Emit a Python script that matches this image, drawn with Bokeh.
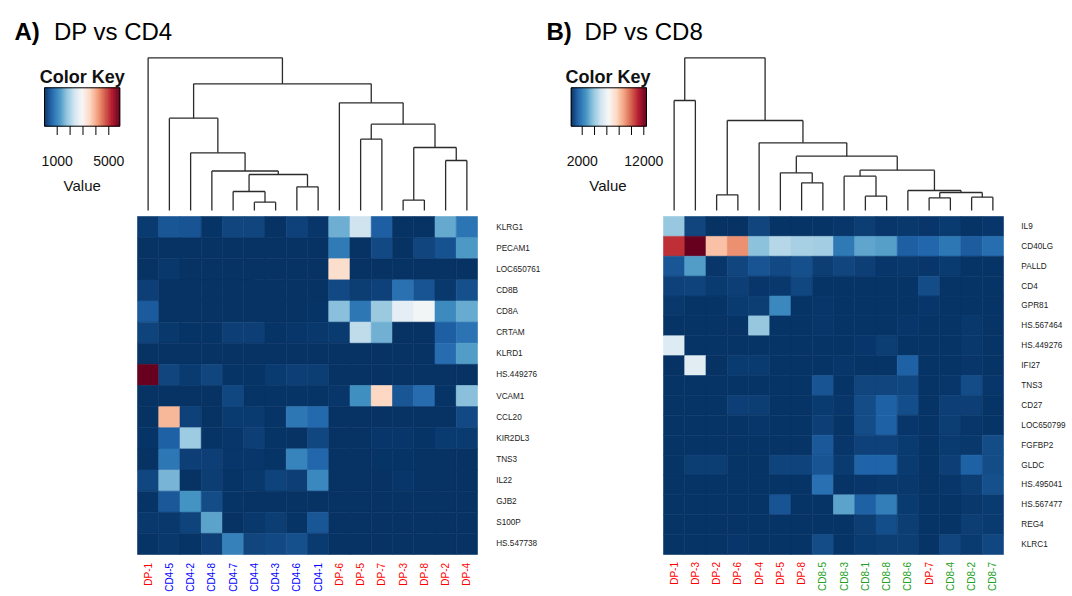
import numpy as np
from bokeh.plotting import figure
from bokeh.models import Range1d, LinearColorMapper, ColumnDataSource
from bokeh.transform import transform
from bokeh.core.properties import value
from bokeh.embed import file_html
from bokeh.resources import INLINE

W, H = 1072, 596
FONT = "Liberation Sans"

# ---------------- Panel A: DP vs CD4 ----------------
cols_a = ["DP-1", "CD4-5", "CD4-2", "CD4-8", "CD4-7", "CD4-4", "CD4-3", "CD4-6",
          "CD4-1", "DP-6", "DP-5", "DP-7", "DP-3", "DP-8", "DP-2", "DP-4"]
rows_a = ["KLRG1", "PECAM1", "LOC650761", "CD8B", "CD8A", "CRTAM", "KLRD1", "HS.449276",
          "VCAM1", "CCL20", "KIR2DL3", "TNS3", "IL22", "GJB2", "S100P", "HS.547738"]
vals_a = [
    [140, 430, 420, 70, 250, 250, 60, 200, 100, 1500, 2320, 530, 50, 50, 1430, 800],
    [50, 50, 50, 50, 50, 50, 50, 50, 60, 870, 50, 300, 60, 260, 390, 1250],
    [60, 110, 60, 60, 60, 60, 60, 60, 60, 3450, 40, 40, 40, 40, 40, 40],
    [190, 60, 60, 60, 60, 60, 60, 60, 60, 310, 170, 210, 760, 425, 120, 370],
    [480, 60, 60, 60, 60, 60, 60, 60, 70, 1720, 820, 1860, 2650, 2850, 1080, 1460],
    [230, 120, 70, 70, 180, 180, 70, 90, 120, 140, 2200, 1530, 50, 60, 520, 790],
    [50, 50, 50, 50, 50, 50, 50, 50, 50, 50, 50, 60, 60, 60, 700, 1300],
    [5853, 260, 140, 250, 70, 80, 150, 190, 170, 50, 50, 50, 50, 50, 50, 50],
    [60, 60, 60, 60, 280, 70, 70, 70, 70, 90, 1150, 3550, 430, 700, 80, 1720],
    [60, 3900, 210, 60, 140, 150, 70, 820, 640, 50, 50, 50, 50, 50, 50, 310],
    [70, 560, 1870, 70, 90, 190, 70, 60, 270, 60, 60, 100, 90, 80, 140, 140],
    [60, 830, 180, 180, 90, 90, 80, 980, 620, 60, 60, 80, 70, 60, 60, 60],
    [270, 1580, 60, 160, 80, 120, 240, 180, 1060, 60, 60, 60, 100, 60, 60, 60],
    [70, 450, 1180, 330, 70, 60, 60, 60, 60, 60, 60, 60, 60, 60, 60, 60],
    [120, 120, 240, 1380, 60, 130, 160, 70, 430, 60, 60, 60, 60, 60, 60, 60],
    [80, 110, 70, 180, 960, 260, 310, 360, 150, 50, 50, 50, 50, 50, 50, 50],
]
# merges: (child, child, height); leaves 0..15, merged nodes 16..
merges_a = [
    (5, 6, 8.3), (12, 13, 10.4), (4, 16, 19.0), (7, 8, 23.7), (18, 19, 36.0),
    (3, 20, 39.5), (14, 15, 50.0), (2, 21, 57.7), (17, 22, 63.0), (10, 11, 71.3),
    (25, 24, 86.3), (1, 23, 92.3), (9, 26, 107.7), (27, 28, 126.7), (0, 29, 152.7),
]
key_a_low, key_a_high = 16, 5853
key_a_ticks = [1000, 2000, 3000, 4000, 5000]
key_a_labels = ["1000", "5000"]

# ---------------- Panel B: DP vs CD8 ----------------
cols_b = ["DP-1", "DP-3", "DP-2", "DP-6", "DP-4", "DP-5", "DP-8", "CD8-5",
          "CD8-3", "CD8-1", "CD8-8", "CD8-6", "DP-7", "CD8-4", "CD8-2", "CD8-7"]
rows_b = ["IL9", "CD40LG", "PALLD", "CD4", "GPR81", "HS.567464", "HS.449276", "IFI27",
          "TNS3", "CD27", "LOC650799", "FGFBP2", "GLDC", "HS.495041", "HS.567477",
          "REG4", "KLRC1"]
vals_b = [
    [3990, 690, 300, 300, 700, 330, 330, 330, 360, 500, 400, 420, 370, 470, 330, 400],
    [10800, 12439, 8100, 9100, 3800, 4600, 4300, 4200, 1950, 3100, 2950, 1300, 1500, 1900, 1250, 1650],
    [1100, 2900, 400, 700, 1050, 800, 950, 500, 700, 550, 380, 430, 380, 460, 330, 330],
    [600, 650, 480, 550, 380, 430, 760, 330, 330, 330, 330, 330, 850, 320, 320, 320],
    [420, 330, 340, 470, 520, 2400, 320, 400, 330, 330, 330, 330, 400, 330, 330, 330],
    [310, 310, 310, 310, 3950, 310, 310, 400, 330, 330, 330, 380, 330, 330, 420, 310],
    [5500, 310, 310, 310, 310, 310, 310, 310, 310, 380, 500, 310, 310, 310, 420, 310],
    [300, 5650, 300, 460, 460, 320, 320, 320, 400, 320, 320, 1330, 330, 330, 390, 330],
    [320, 320, 320, 320, 320, 320, 320, 1050, 330, 700, 700, 780, 330, 360, 870, 400],
    [320, 320, 320, 560, 500, 330, 350, 460, 380, 870, 1350, 900, 330, 560, 560, 330],
    [320, 320, 320, 320, 360, 320, 320, 560, 340, 850, 1350, 360, 340, 530, 390, 330],
    [330, 340, 340, 340, 350, 330, 350, 1120, 400, 620, 620, 450, 340, 460, 420, 850],
    [330, 540, 540, 350, 350, 680, 680, 1050, 460, 1380, 1380, 450, 340, 560, 1350, 870],
    [320, 320, 320, 320, 320, 320, 320, 1700, 330, 390, 420, 420, 330, 380, 540, 950],
    [320, 350, 350, 340, 340, 1050, 330, 330, 3050, 1350, 2100, 450, 340, 340, 420, 450],
    [320, 340, 340, 350, 350, 340, 340, 340, 340, 500, 900, 520, 330, 340, 500, 460],
    [320, 330, 340, 370, 340, 340, 340, 850, 340, 460, 500, 520, 340, 700, 450, 780],
]
merges_b = [
    (12, 13, 12.7), (14, 15, 13.3), (9, 10, 14.3), (2, 3, 15.7), (16, 17, 18.0),
    (11, 20, 20.0), (6, 7, 27.7), (8, 18, 34.3), (5, 22, 37.7), (23, 21, 40.3),
    (24, 25, 54.3), (4, 26, 67.7), (19, 27, 90.0), (0, 1, 110.0), (29, 28, 152.7),
]
key_b_low, key_b_high = 211, 12439
key_b_ticks = [2000, 4000, 6000, 8000, 10000, 12000]
key_b_labels = ["2000", "12000"]

label_colors = {"DP": "#FF0000", "CD4": "#0000FF", "CD8": "#22A022"}

# ---------------- helpers ----------------
rdbu = ["#053061", "#2166AC", "#4393C3", "#92C5DE", "#D1E5F0", "#F7F7F7",
        "#FDDBC7", "#F4A582", "#D6604D", "#B2182B", "#67001F"]


def interp_palette(colors, n):
    rgb = np.array([[int(c[i:i + 2], 16) for i in (1, 3, 5)] for c in colors], float)
    out = []
    for t in np.linspace(0, len(colors) - 1, n):
        i = min(int(np.floor(t)), len(colors) - 2)
        f = t - i
        c = rgb[i] * (1 - f) + rgb[i + 1] * f
        out.append("#%02x%02x%02x" % tuple(int(round(v)) for v in c))
    return out


PAL = interp_palette(rdbu, 256)


def lin_range(d0, p0, d1, p1, pstart, pend):
    k = (d1 - d0) / (p1 - p0)
    return Range1d(start=d0 + (pstart - p0) * k, end=d0 + (pend - p0) * k)


p = figure(width=W, height=H, x_range=Range1d(0, W), y_range=Range1d(H, 0),
           output_backend="svg", toolbar_location=None, min_border=0,
           x_axis_location=None, y_axis_location=None, outline_line_color=None,
           background_fill_color="white", border_fill_color="white")
p.grid.visible = False

# layout (screen pixels)
HEAT_TOP, HEAT_BOT = 216, 554
DEND_BASE = 210
KEY_TOP, KEY_BOT, TICK_BOT = 87.3, 125.7, 134.5
p.extra_y_ranges = {
    "ay": lin_range(-0.5, HEAT_TOP, len(rows_a) - 0.5, HEAT_BOT, H, 0),
    "by": lin_range(-0.5, HEAT_TOP, len(rows_b) - 0.5, HEAT_BOT, H, 0),
    "dy": lin_range(0, DEND_BASE, 100, DEND_BASE - 100, H, 0),
}
p.extra_x_ranges = {
    "ax": lin_range(-0.5, 137, len(cols_a) - 0.5, 477, 0, W),
    "bx": lin_range(-0.5, 663, len(cols_b) - 0.5, 1003, 0, W),
    "akx": lin_range(key_a_low, 44, key_a_high, 119.3, 0, W),
    "bkx": lin_range(key_b_low, 570.7, key_b_high, 646, 0, W),
}


def dendro_segments(merges, n):
    xs = {i: float(i) for i in range(n)}
    hs = {i: 0.0 for i in range(n)}
    x0, y0, x1, y1 = [], [], [], []
    for k, (a, b, h) in enumerate(merges):
        node = n + k
        for c in (a, b):
            x0.append(xs[c]); y0.append(hs[c]); x1.append(xs[c]); y1.append(h)
        x0.append(xs[a]); y0.append(h); x1.append(xs[b]); y1.append(h)
        xs[node] = (xs[a] + xs[b]) / 2
        hs[node] = h
    return dict(x0=x0, y0=y0, x1=x1, y1=y1)


def panel(cols, rows, vals, merges, low, high, ticks, tick_labels, xr, yr, kxr,
          letter, title, letter_x, title_x, key_cx, rowlab_off):
    mapper = LinearColorMapper(palette=PAL, low=low, high=high)
    cx, cy, cv = [], [], []
    for j, r in enumerate(rows):
        for i, c in enumerate(cols):
            cx.append(i); cy.append(j); cv.append(vals[j][i])
    src = ColumnDataSource(dict(x=cx, y=cy, v=cv))
    p.rect(x="x", y="y", width=1, height=1, source=src,
           fill_color=transform("v", mapper), line_color=transform("v", mapper),
           line_width=0.6, x_range_name=xr, y_range_name=yr)

    # dendrogram
    seg = dendro_segments(merges, len(cols))
    p.segment(x0="x0", y0="y0", x1="x1", y1="y1", source=ColumnDataSource(seg),
              line_color="#2b2b2b", line_width=1.3, x_range_name=xr, y_range_name="dy")

    # row labels
    p.text(x=[len(cols) - 0.5 + rowlab_off] * len(rows), y=list(range(len(rows))), text=rows,
           text_font=value(FONT), text_font_size="8.2px", text_color="#222222",
           text_align="left", text_baseline="middle", x_range_name=xr, y_range_name=yr)

    # column labels
    ccol = [label_colors[c.split("-")[0]] for c in cols]
    p.text(x=list(range(len(cols))), y=[len(rows) - 0.5 + 0.4 * 16 / len(rows)] * len(cols),
           text=cols, text_color=ccol, angle=np.pi / 2,
           text_font=value(FONT), text_font_size="10px",
           text_align="right", text_baseline="middle", x_range_name=xr, y_range_name=yr)

    # color key
    edges = np.linspace(low, high, 121)
    mids = (edges[:-1] + edges[1:]) / 2
    ksrc = ColumnDataSource(dict(l=edges[:-1], r=edges[1:], v=mids))
    p.quad(left="l", right="r", top=KEY_TOP, bottom=KEY_BOT, source=ksrc,
           fill_color=transform("v", mapper), line_color=transform("v", mapper),
           line_width=0.5, x_range_name=kxr)
    p.quad(left=[low], right=[high], top=[KEY_TOP], bottom=[KEY_BOT], fill_color=None,
           line_color="black", line_width=1, x_range_name=kxr)
    p.segment(x0=ticks, y0=[KEY_BOT] * len(ticks), x1=ticks, y1=[TICK_BOT] * len(ticks),
              line_color="black", line_width=1, x_range_name=kxr)
    p.text(x=[ticks[0], ticks[-1]], y=[160, 160], text=tick_labels,
           text_font=value(FONT), text_font_size="14px", text_color="#111111",
           text_align="center", text_baseline="alphabetic", x_range_name=kxr)
    p.text(x=[key_cx], y=[76.5], text=["Color Key"], text_font=value(FONT),
           text_font_size="18px", text_font_style="bold", text_color="#111111",
           text_align="center", text_baseline="alphabetic")
    p.text(x=[key_cx], y=[185], text=["Value"], text_font=value(FONT),
           text_font_size="15px", text_color="#111111",
           text_align="center", text_baseline="alphabetic")

    # panel title
    p.text(x=[letter_x], y=[31], text=[letter], text_font=value(FONT),
           text_font_size="24px", text_font_style="bold", text_color="#000000",
           text_align="left", text_baseline="alphabetic")
    p.text(x=[title_x], y=[31], text=[title], text_font=value(FONT),
           text_font_size="24px", text_color="#000000",
           text_align="left", text_baseline="alphabetic")


panel(cols_a, rows_a, vals_a, merges_a, key_a_low, key_a_high, key_a_ticks, key_a_labels,
      "ax", "ay", "akx", "A)", "DP vs CD4", 14.0, 53.4, 81.7, 0.88)
panel(cols_b, rows_b, vals_b, merges_b, key_b_low, key_b_high, key_b_ticks, key_b_labels,
      "bx", "by", "bkx", "B)", "DP vs CD8", 546.0, 584.0, 607.5, 0.84)

open("out.html", "w").write(file_html(p, INLINE))
